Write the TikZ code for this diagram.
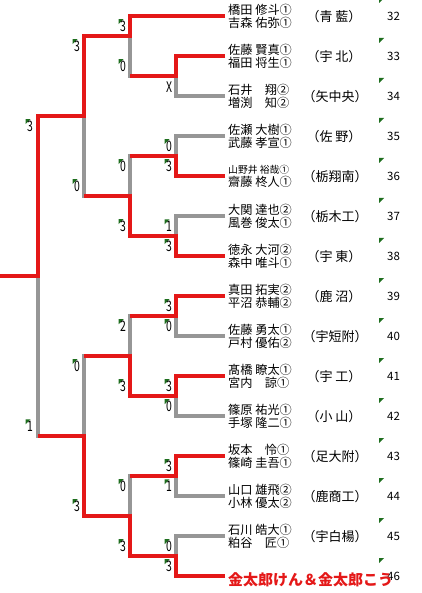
\documentclass[tikz,border=0pt]{standalone}
\usepackage{fontspec}
\newfontfamily\jp{Noto Sans CJK JP}
\newfontfamily\scorefont[FakeStretch=0.72]{Noto Sans CJK JP}
\usetikzlibrary{calc}
\definecolor{winred}{RGB}{228,24,24}
\definecolor{losegray}{RGB}{150,150,150}
\definecolor{markgreen}{RGB}{30,110,30}

\begin{document}
\begin{tikzpicture}[x=1pt, y=-1pt,
  win/.style={draw=winred, line width=3.2pt},
  lose/.style={draw=losegray, line width=3.2pt},
  score/.style={font=\scorefont\fontsize{14.5}{14.5}\selectfont, inner sep=1.5pt,
    path picture={\fill[markgreen] (path picture bounding box.north west) -- ++(5pt,0pt) -- ++(-5pt,-5pt) -- cycle;}},
  pair/.style={font=\jp\fontsize{12.2}{13.5}\selectfont, align=left, anchor=west, inner sep=0pt},
  school/.style={font=\jp\fontsize{13}{13}\selectfont, inner sep=0pt},
  seed/.style={font=\jp\fontsize{11.5}{11.5}\selectfont, inner sep=0pt}
]
\useasboundingbox (0,0) rectangle (422,593);

% team line ends
\coordinate (t32) at (225,16);  \coordinate (t33) at (225,56);
\coordinate (t34) at (225,96);  \coordinate (t35) at (225,136);
\coordinate (t36) at (225,176); \coordinate (t37) at (225,216);
\coordinate (t38) at (225,256); \coordinate (t39) at (225,296);
\coordinate (t40) at (225,336); \coordinate (t41) at (225,376);
\coordinate (t42) at (225,416); \coordinate (t43) at (225,456);
\coordinate (t44) at (225,496); \coordinate (t45) at (225,536);
\coordinate (t46) at (225,576);
% match points
\coordinate (a) at (176,76);  \coordinate (b) at (176,156);
\coordinate (c) at (176,236); \coordinate (d) at (176,316);
\coordinate (e) at (176,396); \coordinate (f) at (176,476);
\coordinate (g) at (176,556);
\coordinate (h) at (130,36);  \coordinate (i) at (130,196);
\coordinate (j) at (130,356); \coordinate (k) at (130,516);
\coordinate (l) at (84,116);  \coordinate (m) at (84,436);
\coordinate (n) at (38,276);  \coordinate (champ) at (0,276);

% bracket, gray first
\draw[lose] (t33) -| (a) (t34) -| (a);
\draw[lose] (t35) -| (b) (t36) -| (b);
\draw[lose] (t37) -| (c) (t38) -| (c);
\draw[lose] (t39) -| (d) (t40) -| (d);
\draw[lose] (t41) -| (e) (t42) -| (e);
\draw[lose] (t43) -| (f) (t44) -| (f);
\draw[lose] (t45) -| (g) (t46) -| (g);
\draw[lose] (t32) -| (h) (a) -| (h);
\draw[lose] (b) -| (i) (c) -| (i);
\draw[lose] (d) -| (j) (e) -| (j);
\draw[lose] (f) -| (k) (g) -| (k);
\draw[lose] (h) -| (l) (i) -| (l);
\draw[lose] (j) -| (m) (k) -| (m);
\draw[lose] (l) -| (n) (m) -| (n);

% winners in red
\draw[win] (t32) -| (h) -| (l) -| (n) -- (champ);
\draw[win] (t33) -| (a) -- (a -| h);
\draw[win] (t36) -| (b) -- (b -| i);
\draw[win] (t38) -| (c) -| (i) -- (i -| l);
\draw[win] (t39) -| (d) -- (d -| j);
\draw[win] (t41) -| (e) -| (j) -- (j -| m);
\draw[win] (t43) -| (f) -- (f -| k);
\draw[win] (t46) -| (g) -| (k) -| (m) -- (m -| n);

% scores
\node[font=\scorefont\fontsize{14.5}{14.5}\selectfont, inner sep=0pt] (xa) at (169,87) {X};
\node[score] (b1) at (169,146) {0}; \node[score] (b2) at (169,166) {3};
\node[score] (c1) at (169,226) {1}; \node[score] (c2) at (169,246) {3};
\node[score] (d1) at (169,306) {3}; \node[score] (d2) at (169,326) {0};
\node[score] (e1) at (169,386) {3}; \node[score] (e2) at (169,406) {0};
\node[score] (f1) at (169,466) {3}; \node[score] (f2) at (169,486) {1};
\node[score] (g1) at (169,546) {0}; \node[score] (g2) at (169,566) {3};
\node[score] (h1) at (123,26) {3};  \node[score] (h2) at (123,66) {0};
\node[score] (i1) at (123,166) {0}; \node[score] (i2) at (123,226) {3};
\node[score] (j1) at (123,326) {2}; \node[score] (j2) at (123,386) {3};
\node[score] (k1) at (123,486) {0}; \node[score] (k2) at (123,546) {3};
\node[score] (l1) at (77,46) {3};   \node[score] (l2) at (77,186) {0};
\node[score] (m1) at (77,366) {0};  \node[score] (m2) at (77,506) {3};
\node[score] (n1) at (30,126) {3};  \node[score] (n2) at (30,426) {1};

% entries
\node[pair] (p32) at (228,16.5) {橋田 修斗①\\吉森 佑弥①};
\node[pair] (p33) at (228,56.5) {佐藤 賢真①\\福田 将生①};
\node[pair] (p34) at (228,96.5) {石井　翔②\\増渕　知②};
\node[pair] (p35) at (228,136.5) {佐瀬 大樹①\\武藤 孝宣①};
\node[pair] (p36) at (228,176.5) {{\fontsize{9.8}{9.8}\selectfont 山野井 裕哉①}\\齋藤 柊人①};
\node[pair] (p37) at (228,216.5) {大関 達也②\\風巻 俊太①};
\node[pair] (p38) at (228,256.5) {徳永 大河②\\森中 唯斗①};
\node[pair] (p39) at (228,296.5) {真田 拓実②\\平沼 恭輔②};
\node[pair] (p40) at (228,336.5) {佐藤 勇太①\\戸村 優佑②};
\node[pair] (p41) at (228,376.5) {髙橋 瞭太①\\宮内　諒①};
\node[pair] (p42) at (228,416.5) {篠原 祐光①\\手塚 隆二①};
\node[pair] (p43) at (228,456.5) {坂本　怜①\\篠崎 圭吾①};
\node[pair] (p44) at (228,496.5) {山口 雄飛②\\小林 優太②};
\node[pair] (p45) at (228,536.5) {石川 皓大①\\粕谷　匠①};

\node[school] (c32) at (334,17) {（青 藍）};
\node[school] (c33) at (334,57) {（宇 北）};
\node[school] (c34) at (335,97) {（矢中央）};
\node[school] (c35) at (334,137) {（佐 野）};
\node[school] (c36) at (335,177) {（栃翔南）};
\node[school] (c37) at (335,217) {（栃木工）};
\node[school] (c38) at (334,257) {（宇 東）};
\node[school] (c39) at (334,297) {（鹿 沼）};
\node[school] (c40) at (335,337) {（宇短附）};
\node[school] (c41) at (334,377) {（宇 工）};
\node[school] (c42) at (334,417) {（小 山）};
\node[school] (c43) at (335,457) {（足大附）};
\node[school] (c44) at (335,497) {（鹿商工）};
\node[school] (c45) at (335,537) {（宇白楊）};

% draw numbers with their marks
\foreach \k in {32,...,46} {
  \node[seed] (s\k) at (393.5,{16.5+(\k-32)*40}) {\k};
  \fill[markgreen] (379,{-2+(\k-32)*40}) -- ++(5,0) -- ++(-5,5) -- cycle;
}

\node[pair, text=winred, font=\jp\bfseries\fontsize{15}{15}\selectfont] (p46) at (228,579.5) {金太郎けん＆金太郎こう};
\end{tikzpicture}
\end{document}
